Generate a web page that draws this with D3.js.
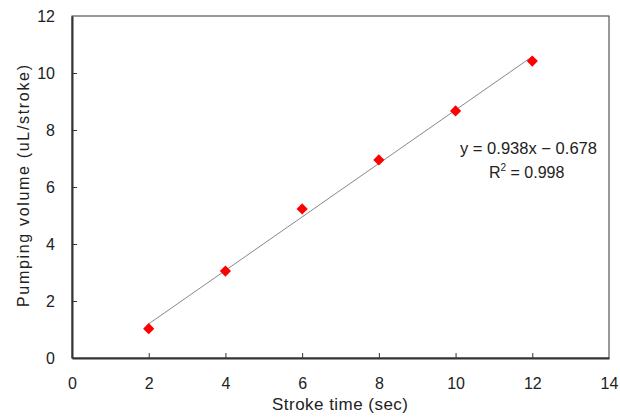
<!DOCTYPE html>
<html>
<head>
<meta charset="utf-8">
<script src="https://cdn.jsdelivr.net/npm/d3@7"></script>
<style>
  body { margin: 0; background: #fff; }
  text { font-family: "Liberation Sans", Arial, sans-serif; fill: #222; }
</style>
</head>
<body>
<svg width="620" height="417"></svg>
<script>
let strokeTime = [2, 4, 6, 8, 10, 12],
    pumpVolume = [1.03, 3.05, 5.23, 6.95, 8.67, 10.42],
    xTicks = [0, 2, 4, 6, 8, 10, 12, 14],
    yTicks = [0, 2, 4, 6, 8, 10, 12],
    slope = 0.938,
    intercept = -0.678;

let width = 620,
    height = 417,
    margin = {top: 16, right: 11, bottom: 59, left: 72};

let svg = d3.select('svg')
    .attr('width', width)
    .attr('height', height);

let x = d3.scaleLinear().domain([0, 14]).range([margin.left, width - margin.right]);
let y = d3.scaleLinear().domain([0, 12]).range([height - margin.bottom, margin.top]);

// plot box
svg.append('rect')
    .attr('x', x(0)).attr('y', y(12))
    .attr('width', x(14) - x(0)).attr('height', y(0) - y(12))
    .attr('fill', 'none').attr('stroke', '#333').attr('stroke-width', 1);

// axes, ticks pointing inward
let xAxis = svg.append('g')
    .attr('transform', `translate(0,${y(0)})`)
    .call(d3.axisBottom(x).tickValues(xTicks).tickSize(-5).tickPadding(20).tickSizeOuter(0));
let yAxis = svg.append('g')
    .attr('transform', `translate(${x(0)},0)`)
    .call(d3.axisLeft(y).tickValues(yTicks).tickSize(-5).tickPadding(17).tickSizeOuter(0));

[xAxis, yAxis].forEach(g => {
    g.select('.domain').attr('stroke', '#333').attr('stroke-width', 2);
    g.selectAll('.tick line').attr('stroke', '#333');
    g.selectAll('.tick text').attr('font-size', 16).attr('fill', '#222')
        .style('font-family', '"Liberation Sans", Arial, sans-serif');
});
xAxis.selectAll('.tick').filter(d => d === 0 || d === 14).select('line').remove();
yAxis.selectAll('.tick').filter(d => d === 0 || d === 12).select('line').remove();

// trend line
let x0 = d3.min(strokeTime), x1 = d3.max(strokeTime);
svg.append('line')
    .attr('x1', x(x0)).attr('y1', y(slope * x0 + intercept))
    .attr('x2', x(x1)).attr('y2', y(slope * x1 + intercept))
    .attr('stroke', '#888').attr('stroke-width', 1);

// markers
svg.selectAll('path.pt')
    .data(strokeTime)
    .enter().append('path')
    .attr('class', 'pt')
    .attr('d', d3.symbol().type(d3.symbolDiamond2).size(80))
    .attr('transform', (d, i) => `translate(${x(d)},${y(pumpVolume[i])})`)
    .attr('fill', '#ff0000');

// equation
let eq = svg.append('g').attr('font-size', 16);
eq.append('text').attr('x', 460).attr('y', 154)
    .attr('textLength', 137).attr('lengthAdjust', 'spacingAndGlyphs')
    .text('y = 0.938x \u2212 0.678');
let r2 = eq.append('text').attr('x', 489).attr('y', 178);
r2.append('tspan').text('R');
r2.append('tspan').attr('dy', -7).attr('font-size', 10).text('2');
r2.append('tspan').attr('dy', 7).text(' = 0.998');

// axis titles
svg.append('text')
    .attr('x', 272).attr('y', 410)
    .attr('font-size', 17)
    .attr('textLength', 136).attr('lengthAdjust', 'spacing')
    .text('Stroke time (sec)');
svg.append('text')
    .attr('transform', `translate(29,307) rotate(-90)`)
    .attr('font-size', 16)
    .attr('textLength', 242).attr('lengthAdjust', 'spacing')
    .text('Pumping volume (uL/stroke)');
</script>
</body>
</html>
